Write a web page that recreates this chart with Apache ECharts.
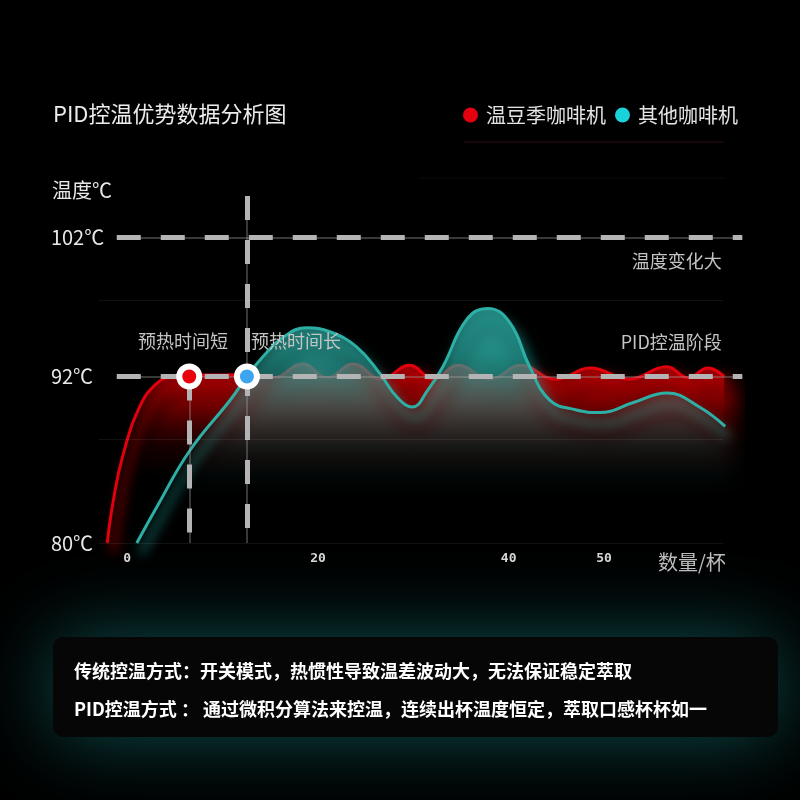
<!DOCTYPE html>
<html><head><meta charset="utf-8">
<script src="https://cdn.jsdelivr.net/npm/echarts@6/dist/echarts.min.js"></script>
<style>html,body{margin:0;padding:0;background:#000;}#c{width:800px;height:800px;}</style>
</head><body><div id="c"></div>
<script>
// ---------- data ----------
const seriesNames = ['温豆季咖啡机', '其他咖啡机'];
const cupsRed  = [-2.1, -1.5, -0.5, 1.3, 3.1, 4.8, 6.5, 9.5, 12.5, 15.3, 18.4, 21.0, 23.7, 26.6, 29.6, 32.1, 34.7, 38.0, 41.3, 44.9, 48.6, 52.6, 56.6, 58.8, 60.9, 62.6];
const tempRed  = [80, 82.9, 86.2, 89.8, 91.5, 92.0, 92.1, 92.1, 92.1, 91.9, 92.9, 91.9, 92.9, 91.8, 92.8, 91.8, 92.8, 91.8, 92.8, 91.8, 92.6, 91.8, 92.7, 91.9, 92.6, 92.0];
const cupsOther = [1.0, 3.1, 6.6, 10.8, 12.55, 14.2, 16.3, 18.8, 21.3, 24.1, 26.5, 28.3, 29.9, 31.5, 33.1, 35.6, 37.8, 40.1, 42.2, 44.3, 47.0, 49.6, 53.0, 56.6, 60.0, 62.7];
const tempOther = [80, 82.6, 86.7, 90.3, 92.0, 93.4, 94.8, 95.5, 95.2, 94.1, 92.2, 90.5, 89.8, 91.0, 92.7, 96.1, 96.9, 95.9, 92.7, 90.3, 89.6, 89.4, 90.1, 90.8, 89.8, 88.4];
const xTickValues = [0, 20, 40, 50];
const yTickValues = [80, 92, 102];
const pidTemp = 92;
const highTemp = 102;
const shortPreheatCups = 6.5;
const longPreheatCups = 12.55;
const xRange = [-3.5, 64.5];
const yRange = [80, 105];
const faintGridTemps = [87.5, 97.5];
const notes = {
  title: 'PID控温优势数据分析图',
  yName: '温度℃',
  xName: '数量/杯',
  shortLabel: '预热时间短',
  longLabel: '预热时间长',
  bigChange: '温度变化大',
  pidStage: 'PID控温阶段',
  line1: '传统控温方式：开关模式，热惯性导致温差波动大，无法保证稳定萃取',
  line2: 'PID控温方式 ： 通过微积分算法来控温，连续出杯温度恒定，萃取口感杯杯如一'
};

// ---------- build ----------
const FONT = "'Noto Sans CJK SC','Noto Sans',sans-serif";
const zip = (a, b) => a.map((v, i) => [v, b[i]]);
const G = echarts.graphic;
const redData = zip(cupsRed, tempRed);
const otherData = zip(cupsOther, tempOther);

const thin = { color: 'rgba(170,170,170,0.45)', width: 1.5, type: 'solid' };
const dash = { color: '#b4b4b4', width: 5, type: [24, 20], cap: 'butt' };
function seg(p1, p2, style) {
  return [{ coord: p1, lineStyle: style }, { coord: p2 }];
}
const dashedLines = [];
[highTemp, pidTemp].forEach(t => {
  dashedLines.push(seg([-1.1, t], [xRange[1], t], thin));
  dashedLines.push(seg([-1.1, t], [xRange[1], t], dash));
});
dashedLines.push(seg([shortPreheatCups, pidTemp], [shortPreheatCups, yRange[0]], thin));
dashedLines.push(seg([shortPreheatCups, pidTemp], [shortPreheatCups, yRange[0]], dash));
dashedLines.push(seg([longPreheatCups, yRange[1]], [longPreheatCups, yRange[0]], thin));
dashedLines.push(seg([longPreheatCups, yRange[1]], [longPreheatCups, yRange[0]], dash));
const faint = { color: 'rgba(255,255,255,0.07)', width: 1, type: 'solid' };
faintGridTemps.concat([yRange[0]]).forEach(t => {
  dashedLines.push(seg([-3, t], [62.5, t], faint));
});

const labelStyle = { color: '#c4c4c4', fontSize: 18, fontFamily: FONT };
function textPoint(x, y, text, pos) {
  return {
    coord: [x, y], symbol: 'rect', symbolSize: 1,
    itemStyle: { color: 'transparent' },
    label: Object.assign({ show: true, formatter: text, position: pos, distance: 0 }, labelStyle)
  };
}
function dot(x, y, color) {
  return {
    coord: [x, y], symbol: 'circle', symbolSize: 20,
    itemStyle: { color: color, borderColor: '#ffffff', borderWidth: 6 },
    label: { show: false }
  };
}
function grad(stops) {
  return new G.LinearGradient(0, 0, 0, 1, stops.map(s => ({ offset: s[0], color: s[1] })));
}

const chart = echarts.init(document.getElementById('c'));
chart.setOption({
  animation: false,
  backgroundColor: '#000000',
  title: [
    { text: notes.title, left: 53, top: 103, padding: 0, textStyle: { fontSize: 22, color: '#ececec', fontWeight: 'normal', fontFamily: FONT } },
    { text: notes.yName, left: 52, top: 180, padding: 0, textStyle: { fontSize: 20, color: '#e8e8e8', fontWeight: 'normal', fontFamily: FONT } },
    { text: notes.xName, left: 658, top: 552, padding: 0, textStyle: { fontSize: 20, color: '#bdbdbd', fontWeight: 'normal', fontFamily: FONT } }
  ],
  legend: {
    data: seriesNames, left: 463, top: 105, padding: 0, icon: 'circle',
    itemWidth: 15, itemHeight: 15, itemGap: 9, selectedMode: false,
    textStyle: { color: '#e4e4e4', fontSize: 20, fontFamily: FONT, padding: [0, 0, 0, 3] }
  },
  grid: { left: 93.9, right: 57.7, top: 196, bottom: 257, containLabel: false },
  xAxis: {
    type: 'value', min: xRange[0], max: xRange[1],
    axisLine: { show: false }, axisTick: { show: false }, splitLine: { show: false },
    axisLabel: { customValues: xTickValues, color: '#d6d6d6', fontSize: 13, fontWeight: 'bold', margin: 9, fontFamily: "'DejaVu Sans Mono',monospace" }
  },
  yAxis: {
    type: 'value', min: yRange[0], max: yRange[1],
    axisLine: { show: false }, axisTick: { show: false }, splitLine: { show: false },
    axisLabel: {
      customValues: yTickValues, color: '#e8e8e8', fontSize: 20, align: 'left', margin: 43,
      fontFamily: FONT, formatter: v => v + '℃'
    }
  },
  series: [
    {
      name: seriesNames[0], type: 'line', z: 2, smooth: 0.45, showSymbol: false, clip: false,
      data: redData,
      itemStyle: { color: '#e3000f' },
      lineStyle: { width: 3, color: 'rgb(225,0,12)', shadowBlur: 12, shadowOffsetX: 6, shadowOffsetY: 9, shadowColor: 'rgba(230,0,0,1)' },
      areaStyle: {
        color: grad([
          [0, 'rgba(230,0,10,0.95)'],
          [0.1, 'rgba(200,0,5,0.85)'],
          [0.22, 'rgba(140,0,0,0.5)'],
          [0.38, 'rgba(60,0,0,0.15)'],
          [0.55, 'rgba(0,0,0,0)']
        ]),
        shadowColor: 'rgba(215,0,0,1)', shadowBlur: 20, shadowOffsetX: 12, shadowOffsetY: 14
      },
      markLine: { silent: true, symbol: 'none', label: { show: false }, z: 5, data: dashedLines },
      markPoint: {
        silent: true, z: 10,
        data: [
          dot(shortPreheatCups, pidTemp, '#e8000b'),
          dot(longPreheatCups, pidTemp, '#3da5f0'),
          textPoint(5.84, 94.55, notes.shortLabel, 'inside'),
          textPoint(17.7, 94.55, notes.longLabel, 'inside'),
          textPoint(62.4, 100.3, notes.bigChange, 'left'),
          textPoint(62.4, 94.5, notes.pidStage, 'left')
        ]
      }
    },
    {
      name: seriesNames[1], type: 'line', z: 3, smooth: 0.45, showSymbol: false, clip: false,
      data: otherData,
      itemStyle: { color: '#19d2da' },
      lineStyle: { width: 3, color: 'rgb(45,175,165)', shadowBlur: 12, shadowOffsetX: 4, shadowOffsetY: 11, shadowColor: 'rgba(35,175,165,1)' },
      areaStyle: {
        color: grad([
          [0, 'rgba(55,200,190,0.95)'],
          [0.2, 'rgba(45,170,162,0.75)'],
          [0.4, 'rgba(30,125,120,0.35)'],
          [0.55, 'rgba(10,60,60,0.1)'],
          [0.7, 'rgba(0,0,0,0)']
        ]),
        shadowColor: 'rgba(35,170,160,1)', shadowBlur: 22, shadowOffsetX: 5, shadowOffsetY: 22
      }
    }
  ],
  graphic: [
    { type: 'line', shape: { x1: 464, y1: 142, x2: 724, y2: 142 }, style: { stroke: 'rgba(120,40,40,0.35)', lineWidth: 1 }, silent: true },
    { type: 'line', shape: { x1: 418, y1: 178, x2: 724, y2: 178 }, style: { stroke: 'rgba(255,255,255,0.04)', lineWidth: 1 }, silent: true },
    { type: 'rect', left: 53, top: 637, shape: { width: 725, height: 100, r: 10 },
      style: { fill: '#060606', shadowBlur: 80, shadowColor: 'rgba(25,130,130,0.6)' }, silent: true },
    { type: 'text', left: 74, top: 662, style: { text: notes.line1, fill: '#ffffff', font: "bold 18px 'Noto Sans CJK SC'" }, silent: true },
    { type: 'text', left: 74, top: 700, style: { text: notes.line2, fill: '#ffffff', font: "bold 18px 'Noto Sans CJK SC'" }, silent: true }
  ]
});
</script>
</body></html>
